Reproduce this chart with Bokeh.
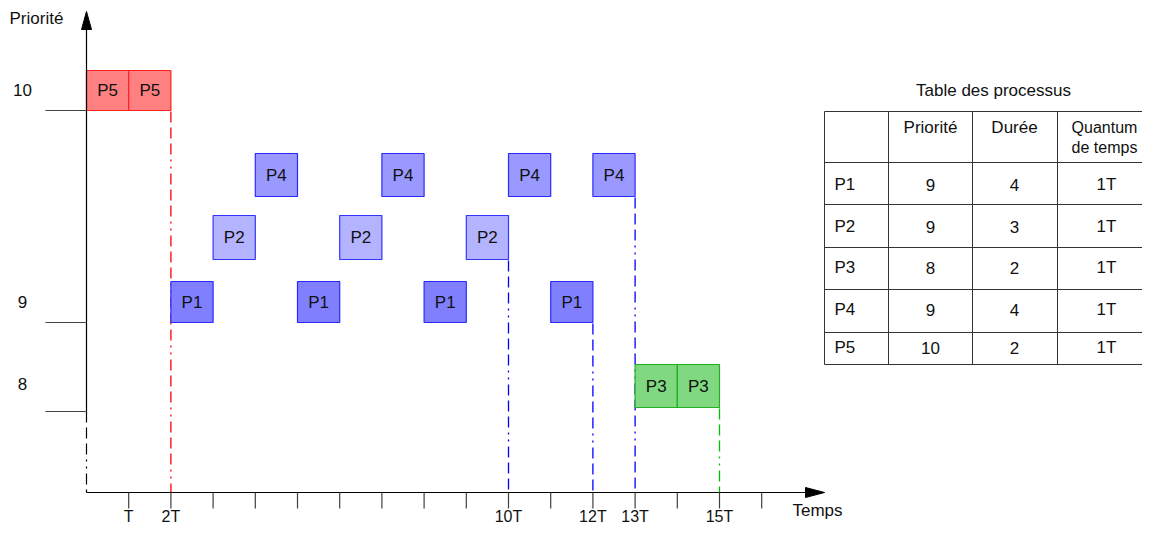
from bokeh.plotting import figure
from bokeh.models import Range1d, ColumnDataSource
from bokeh.core.properties import value
from bokeh.embed import file_html
from bokeh.resources import INLINE

# ---------------- data ----------------
processes = ["P1", "P2", "P3", "P4", "P5"]
priorities = ["9", "9", "8", "9", "10"]
durations = ["4", "3", "2", "4", "2"]
quanta = ["1T", "1T", "1T", "1T", "1T"]
table_headers = ["", "Priorité", "Durée", "Quantum\nde temps"]

sched_proc = ["P5", "P5", "P1", "P2", "P4", "P1", "P2", "P4",
              "P1", "P2", "P4", "P1", "P4", "P3", "P3"]
sched_start = [0, 1, 2, 3, 4, 5, 6, 7, 8, 9, 10, 11, 12, 13, 14]

priority_levels = ["10", "9", "8"]
tick_times = [1, 2, 3, 4, 5, 6, 7, 8, 9, 10, 11, 12, 13, 14, 15, 16]
label_times = [1, 2, 10, 12, 13, 15]
label_texts = ["T", "2T", "10T", "12T", "13T", "15T"]

# ---------------- layout / style ----------------
FONT = value("Liberation Sans")
FS = "17px"
PX_T = 42.2          # pixels per time unit
ORIGIN_X = 86
AXIS_Y = 492
W, H = 1142, 524
level_line_y = {"10": 110, "9": 322, "8": 411}
level_label_y = {"10": 89, "9": 301, "8": 383}
row = {"P5": (70, 110), "P1": (281, 322), "P2": (215, 259),
       "P4": (153, 196), "P3": (364, 407)}
fill = {"P5": "#FF8080", "P1": "#8080FF", "P2": "#B3B3FF",
        "P4": "#9999FF", "P3": "#80D880"}
edge = {"P5": "#FF2020", "P1": "#2A2AFF", "P2": "#3333FF",
        "P4": "#2A2AFF", "P3": "#22B022"}
endc = {"P5": "#FF0000", "P1": "#0000FF", "P2": "#0000FF",
        "P4": "#0000FF", "P3": "#00C000"}
DASH = "11 5 11 5 11 5 2 5 2 5"
TXT = "#111111"

p = figure(width=W, height=H, output_backend="svg", toolbar_location=None,
           x_range=Range1d(-ORIGIN_X / PX_T, (W - ORIGIN_X) / PX_T),
           y_range=Range1d(H, 0), min_border=0,
           x_axis_type=None, y_axis_type=None)
p.extra_x_ranges = {"px": Range1d(0, W)}
p.grid.visible = False
p.outline_line_color = None
p.background_fill_color = "white"

# ---------------- completion markers ----------------
end_time = {}
for q, s in zip(sched_proc, sched_start):
    end_time[q] = max(end_time.get(q, 0), s + 1)
ends = sorted(end_time)
p.segment(x0=[end_time[q] for q in ends], x1=[end_time[q] for q in ends],
          y0=[row[q][1] + 1 for q in ends], y1=[AXIS_Y] * len(ends),
          line_color=[endc[q] for q in ends], line_width=1.3, line_dash=DASH)

# ---------------- boxes ----------------
src = ColumnDataSource(dict(
    left=sched_start,
    right=[s + 1 for s in sched_start],
    top=[row[q][0] for q in sched_proc],
    bottom=[row[q][1] for q in sched_proc],
    fill=[fill[q] for q in sched_proc],
    edge=[edge[q] for q in sched_proc],
    name=sched_proc,
    xc=[s + 0.5 for s in sched_start],
    yc=[(row[q][0] + row[q][1]) / 2 for q in sched_proc],
))
p.quad(left="left", right="right", top="top", bottom="bottom",
       fill_color="fill", line_color="edge", line_width=1.2, source=src)
p.text(x="xc", y="yc", text="name", source=src, text_font=FONT,
       text_font_size=FS, text_align="center", text_baseline="middle",
       text_color=TXT)

# ---------------- axes ----------------
# time axis
p.segment(x0=[ORIGIN_X], y0=[AXIS_Y], x1=[812], y1=[AXIS_Y],
          line_color="black", line_width=1.2, x_range_name="px")
p.patch(x=[805, 824, 805], y=[487, AXIS_Y, 497], fill_color="black",
        line_color="black", x_range_name="px")
p.segment(x0=tick_times, x1=tick_times, y0=[AXIS_Y] * len(tick_times),
          y1=[508] * len(tick_times), line_color="#404040", line_width=1.2)
p.text(x=label_times, y=[516] * len(label_times), text=label_texts,
       text_font=FONT, text_font_size="16px", text_align="center",
       text_baseline="middle", text_color=TXT)
p.text(x=[817], y=[510], text=["Temps"], x_range_name="px", text_font=FONT,
       text_font_size=FS, text_align="center", text_baseline="middle",
       text_color=TXT)

# priority axis
p.segment(x0=[ORIGIN_X], y0=[24], x1=[ORIGIN_X], y1=[level_line_y["8"]],
          line_color="black", line_width=1.2, x_range_name="px")
p.segment(x0=[ORIGIN_X], y0=[level_line_y["8"]], x1=[ORIGIN_X], y1=[AXIS_Y],
          line_color="black", line_width=1.2, line_dash=DASH, x_range_name="px")
p.patch(x=[81, ORIGIN_X, 91], y=[29, 11, 29], fill_color="black",
        line_color="black", x_range_name="px")
p.segment(x0=[45] * 3, x1=[ORIGIN_X] * 3,
          y0=[level_line_y[l] for l in priority_levels],
          y1=[level_line_y[l] for l in priority_levels],
          line_color="#444444", line_width=1.2, x_range_name="px")
p.text(x=[22] * 3, y=[level_label_y[l] for l in priority_levels],
       text=priority_levels, x_range_name="px", text_font=FONT,
       text_font_size=FS, text_align="center", text_baseline="middle",
       text_color=TXT)
p.text(x=[9], y=[18], text=["Priorité"], x_range_name="px", text_font=FONT,
       text_font_size=FS, text_align="left", text_baseline="middle",
       text_color=TXT)

# ---------------- process table ----------------
row_y = [111, 162, 204, 247, 289, 332, 364]
col_x = [824, 888, 972, 1057]
p.segment(x0=[824] * len(row_y), x1=[1160] * len(row_y), y0=row_y, y1=row_y,
          line_color="#333333", line_width=1, x_range_name="px")
p.segment(x0=col_x, x1=col_x, y0=[row_y[0]] * len(col_x),
          y1=[row_y[-1]] * len(col_x), line_color="#333333", line_width=1,
          x_range_name="px")
p.text(x=[993], y=[90], text=["Table des processus"], x_range_name="px",
       text_font=FONT, text_font_size=FS, text_align="center",
       text_baseline="middle", text_color=TXT)
centers = [930, 1014, 1106]
p.text(x=centers[:2], y=[127, 127], text=table_headers[1:3], x_range_name="px",
       text_font=FONT, text_font_size=FS, text_align="center",
       text_baseline="middle", text_color=TXT)
hq = table_headers[3].split("\n")
p.text(x=[1104, 1104], y=[127, 147], text=hq, x_range_name="px",
       text_font=FONT, text_font_size="16px", text_align="center",
       text_baseline="middle", text_color=TXT)
ry = [184, 226, 267, 309, 347]
p.text(x=[834] * 5, y=ry, text=processes, x_range_name="px", text_font=FONT,
       text_font_size=FS, text_align="left", text_baseline="middle",
       text_color=TXT)
for cx, col in zip(centers, [priorities, durations, quanta]):
    p.text(x=[cx] * 5, y=ry, text=col, x_range_name="px", text_font=FONT,
           text_font_size=FS, text_align="center", text_baseline="middle",
           text_color=TXT)

open("out.html", "w").write(file_html(p, INLINE))
